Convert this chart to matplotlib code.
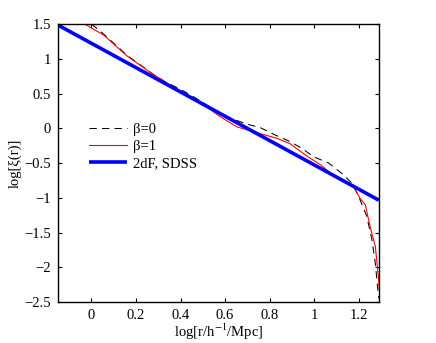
import numpy as np
import matplotlib
matplotlib.use("Agg")
import matplotlib.pyplot as plt

plt.rcParams['font.family'] = ['Liberation Serif', 'DejaVu Serif']
plt.rcParams['mathtext.fontset'] = 'stix'

# beta = 1 (red)
x_b1 = [-0.03, 0.055, 0.16, 0.27, 0.35, 0.43, 0.50, 0.578, 0.653, 0.743, 0.833, 0.89,
        0.967, 1.03, 1.094, 1.176, 1.206, 1.229, 1.251, 1.274, 1.288, 1.292]
y_b1 = [1.50, 1.34, 1.04, 0.79, 0.63, 0.48, 0.345, 0.166, 0.02, -0.064, -0.145, -0.22,
        -0.40, -0.53, -0.70, -0.84, -1.01, -1.10, -1.42, -1.70, -2.14, -2.30]

# beta = 0 (dashed)
x_b0 = [0.0, 0.05, 0.16, 0.28, 0.33, 0.40, 0.46, 0.55, 0.62, 0.698, 0.758, 0.825, 0.89,
        0.945, 0.997, 1.064, 1.124, 1.169, 1.199, 1.236, 1.259, 1.274, 1.284, 1.29]
y_b0 = [1.50, 1.37, 1.05, 0.77, 0.67, 0.56, 0.45, 0.27, 0.15, 0.06, 0.008, -0.097, -0.19,
        -0.29, -0.41, -0.50, -0.65, -0.79, -0.98, -1.27, -1.61, -1.94, -2.28, -2.45]

# 2dF, SDSS power law
x_obs = [-0.15, 1.29]
y_obs = [1.485, -1.035]

xticks = [0, 0.2, 0.4, 0.6, 0.8, 1, 1.2]
xticklabels = ['0', '0.2', '0.4', '0.6', '0.8', '1', '1.2']
yticks = [-2.5, -2, -1.5, -1, -0.5, 0, 0.5, 1, 1.5]
yticklabels = ['\u22122.5', '\u22122', '\u22121.5', '\u22121', '\u22120.5', '0', '0.5', '1', '1.5']

fig = plt.figure(figsize=(4.36, 3.43), dpi=100)
ax = fig.add_axes([0.133, 0.1195, 0.736, 0.8105])

ax.plot(x_b0, y_b0, color='black', lw=0.75, ls=(0, (7, 5)), label='\u03b2=0')
ax.plot(x_b1, y_b1, color='red', lw=0.8, label='\u03b2=1')
ax.plot(x_obs, y_obs, color='blue', lw=2.6, label='2dF, SDSS', solid_capstyle='butt')

ax.set_xlim(-0.15, 1.29)
ax.set_ylim(-2.5, 1.5)
ax.set_xticks(xticks)
ax.set_xticklabels(xticklabels)
ax.set_yticks(yticks)
ax.set_yticklabels(yticklabels)
ax.tick_params(direction='in', top=True, right=True, length=3, width=0.8, labelsize=10.5, pad=5)
for s in ax.spines.values():
    s.set_linewidth(1.0)

ax.set_xlabel('log[r/h$^{-1}$/Mpc]', fontsize=10.5, labelpad=0)
ax.set_ylabel('log[\u03be(r)]', fontsize=10.5, labelpad=2)

leg = ax.legend(loc='upper left', bbox_to_anchor=(0.08, 0.665), frameon=False, fontsize=10.5,
                handlelength=2.6, handletextpad=0.4, labelspacing=0.25, borderaxespad=0)

fig.savefig('out.png', dpi=100)
